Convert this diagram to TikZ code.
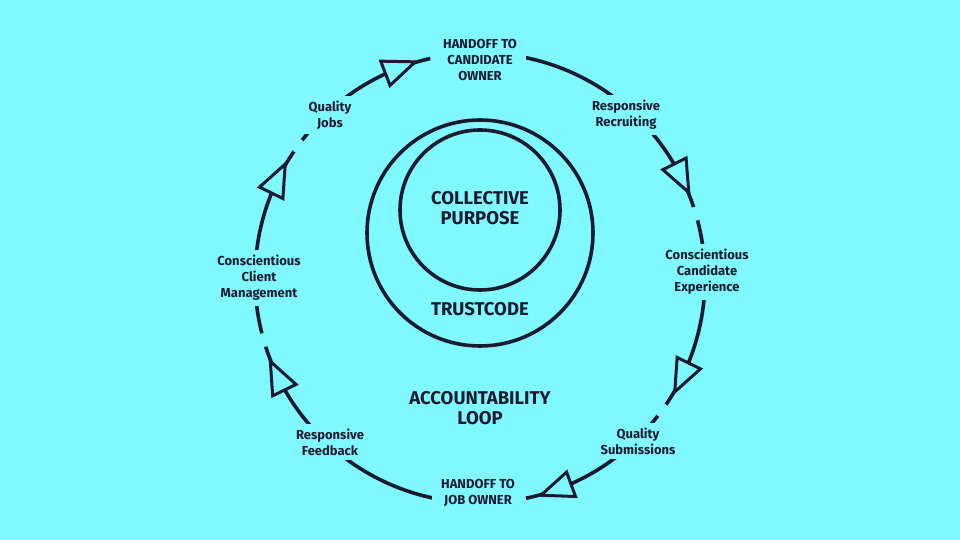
\documentclass[tikz,border=0pt]{standalone}
\usepackage{fontspec}
\setmainfont{Fira Sans}
\usetikzlibrary{calc}
\begin{document}
\begin{tikzpicture}[x=1pt,y=1pt,
  ink/.style={draw=navy,line width=3.6pt},
  lab/.style={fill=bg,text=navy,font=\fontsize{13}{16}\selectfont\bfseries,align=center,inner xsep=9pt,inner ysep=5pt},
  big/.style={text=navy,font=\fontsize{18.5}{20}\selectfont\bfseries,align=center},
  gap/.style={fill=bg,circle,inner sep=0pt,minimum size=14pt}]
\definecolor{bg}{HTML}{7FF9FF}
\definecolor{navy}{HTML}{1B1B30}
\fill[bg] (0,0) rectangle (960,540);
\useasboundingbox (0,0) rectangle (960,540);
\coordinate (c) at (480,262);
\draw[ink] (c) circle (225);
\draw[ink] (480,307) circle (113);
\draw[ink] (480,330) circle (80);
% gaps after arrow tips
\foreach \a in {111,26.6,-26,-70,-154,154}{
  \node[gap] at ($(c)+(\a-10:225)$) {};
}
% arrowheads
\foreach \a in {111,26.6,-26,-70,-154,154}{
  \begin{scope}[shift={($(c)+(\a:225)$)},rotate=\a-90]
    \draw[draw=navy,fill=bg,line width=3pt,line join=miter] (17,0) -- (-15,13) -- (-15,-13) -- cycle;
  \end{scope}
}
\node[lab] (t) at (480,480) {HANDOFF TO\\CANDIDATE\\OWNER};
\node[lab] (rr) at (626,425) {Responsive\\Recruiting};
\node[lab] (cce) at (707,268) {Conscientious\\Candidate\\Experience};
\node[lab] (qs) at (638,99) {Quality\\Submissions};
\node[lab] (b) at (478,47) {HANDOFF TO\\JOB OWNER};
\node[lab] (rf) at (330,98) {Responsive\\Feedback};
\node[lab] (ccm) at (259,262) {Conscientious\\Client\\Management};
\node[lab] (qj) at (330,425) {Quality\\Jobs};
\node[big] (cp) at (480,332) {COLLECTIVE\\PURPOSE};
\node[big] (tc) at (480,231) {TRUSTCODE};
\node[big] (al) at (480,132) {ACCOUNTABILITY\\LOOP};
\end{tikzpicture}
\end{document}
